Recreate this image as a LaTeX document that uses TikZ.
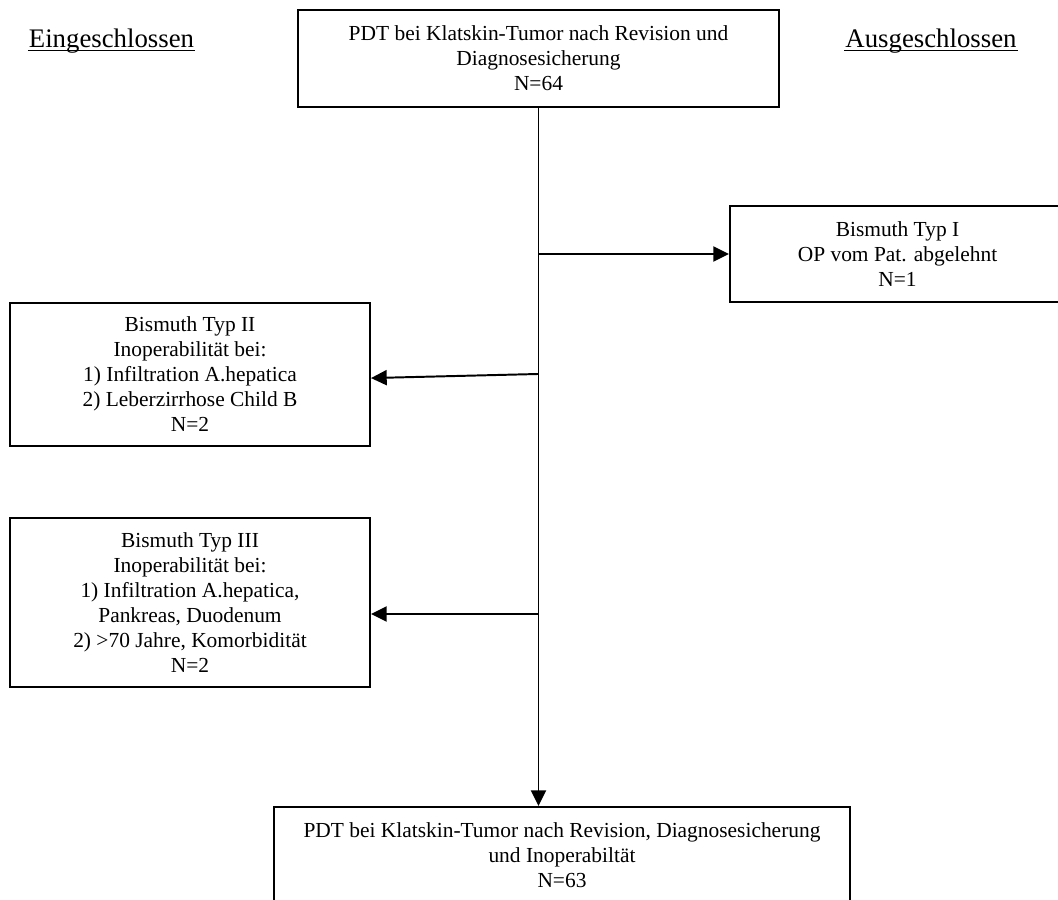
\documentclass[tikz,border=0pt]{standalone}
\usepackage{fontspec}
\setmainfont{Liberation Serif}
\usetikzlibrary{arrows.meta}
\begin{document}
\begin{tikzpicture}[x=0.56pt,y=-0.56pt,
  line width=1.1pt,
  box/.style={draw, rectangle, inner sep=0pt, align=center, font=\fontsize{12pt}{14pt}\selectfont},
  hdr/.style={inner sep=0pt, anchor=base, font=\fontsize{15pt}{17pt}\selectfont},
  arr/.style={-{Triangle[length=8.8pt,width=8.4pt]}},
  uline/.style={line width=0.6pt}]
\useasboundingbox (0,0) rectangle (1058,900);
\begin{scope}
\clip (0,0) rectangle (1058,900);
% headers
\node[hdr] (inc) at (111.5,48) {Eingeschlossen};
\node[hdr] (exc) at (931,48) {Ausgeschlossen};
\draw[uline] ([yshift=-1.5pt]inc.base west) -- ([yshift=-1.5pt]inc.base east);
\draw[uline] ([yshift=-1.5pt]exc.base west) -- ([yshift=-1.5pt]exc.base east);
% boxes
\node[box, minimum width=481*0.56pt, minimum height=97*0.56pt] (top) at (538.5,58.5)
  {PDT bei Klatskin-Tumor nach Revision und\\Diagnosesicherung\\N=64};
\node[box, minimum width=335*0.56pt, minimum height=96*0.56pt] (rb) at (897.5,254)
  {Bismuth Typ I\\OP vom Pat. abgelehnt\\N=1};
\node[box, minimum width=360*0.56pt, minimum height=143*0.56pt] (b2) at (190,374.5)
  {Bismuth Typ II\\Inoperabilität bei:\\1) Infiltration A.hepatica\\2) Leberzirrhose Child B\\N=2};
\node[box, minimum width=360*0.56pt, minimum height=169*0.56pt] (b3) at (190,602.5)
  {Bismuth Typ III\\Inoperabilität bei:\\1) Infiltration A.hepatica,\\Pankreas, Duodenum\\2) >70 Jahre, Komorbidität\\N=2};
\node[box, minimum width=576*0.56pt, minimum height=120*0.56pt, anchor=north] (bot) at (562,806) {};
\node[box, draw=none, anchor=north] (bottxt) at (562,821.5)
  {PDT bei Klatskin-Tumor nach Revision, Diagnosesicherung\\und Inoperabiltät\\N=63};
% connectors
\coordinate (j1) at (top.south |- rb.west);
\coordinate (j2) at (538,374);
\coordinate (j3) at (538,614);
\draw[arr] (top.south) -- (top.south |- bot.north);
\draw[arr] (j1) -- (rb.west);
\draw[arr] (j2) -- ([yshift=-2pt]b2.east);
\draw[arr] (j3) -- (b3.east |- j3);
\end{scope}
\end{tikzpicture}
\end{document}
